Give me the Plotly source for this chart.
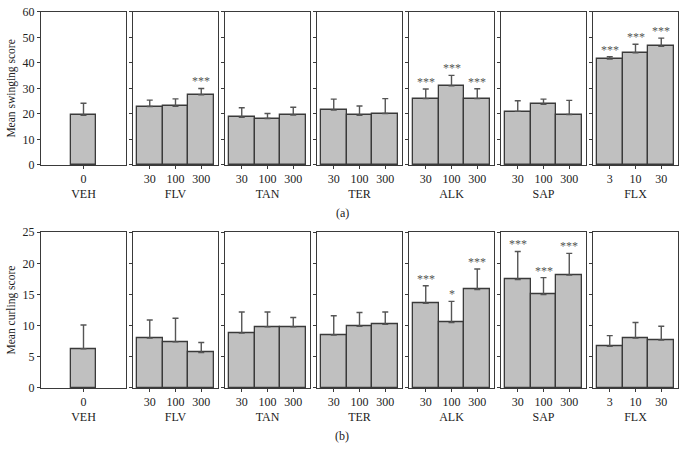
import plotly.graph_objects as go

groups = ["VEH", "FLV", "TAN", "TER", "ALK", "SAP", "FLX"]
doses = [["0"], ["30", "100", "300"], ["30", "100", "300"], ["30", "100", "300"],
         ["30", "100", "300"], ["30", "100", "300"], ["3", "10", "30"]]

swing_mean = [[19.5], [22.9, 23.0, 27.5], [18.7, 18.2, 19.6], [21.5, 19.5, 20.2],
              [26.0, 31.0, 26.0], [21.0, 23.8, 19.8], [41.5, 44.0, 46.5]]
swing_err = [[4.7], [2.5, 2.9, 2.5], [3.7, 2.0, 3.0], [4.3, 3.6, 5.8],
             [3.8, 4.1, 3.9], [4.2, 2.0, 5.5], [0.9, 3.3, 3.2]]
swing_sig = [[""], ["", "", "***"], ["", "", ""], ["", "", ""],
             ["***", "***", "***"], ["", "", ""], ["***", "***", "***"]]

curl_mean = [[6.3], [8.0, 7.4, 5.7], [8.8, 9.8, 9.8], [8.5, 9.9, 10.2],
             [13.6, 10.5, 15.8], [17.4, 15.0, 18.1], [6.7, 8.0, 7.7]]
curl_err = [[3.8], [2.9, 3.8, 1.6], [3.4, 2.4, 1.5], [3.1, 2.2, 2.0],
            [2.8, 3.4, 3.3], [4.5, 2.7, 3.5], [1.7, 2.5, 2.2]]
curl_sig = [[""], ["", "", ""], ["", "", ""], ["", "", ""],
            ["***", "*", "***"], ["***", "***", "***"], ["", "", ""]]

rows = [
    dict(mean=swing_mean, err=swing_err, sig=swing_sig, ymax=60, dtick=10,
         title="Mean swinging score", dom=[0.639, 0.974], tag="(a)", tagy=0.534),
    dict(mean=curl_mean, err=curl_err, sig=curl_sig, ymax=25, dtick=5,
         title="Mean curling score", dom=[0.151, 0.492], tag="(b)", tagy=0.046),
]

W, H = 686, 457
left, pw, gap = 41, 85, 7
FONT = "Liberation Serif"
LINE = "#3a3a3a"

fig = go.Figure()
layout = {}
annotations = []
k = 0
for r, row in enumerate(rows):
    for i, g in enumerate(groups):
        k += 1
        xa = "xaxis" if k == 1 else f"xaxis{k}"
        ya = "yaxis" if k == 1 else f"yaxis{k}"
        xr = "x" if k == 1 else f"x{k}"
        yr = "y" if k == 1 else f"y{k}"
        n = len(doses[i])
        xs = [1] if n == 1 else list(range(n))
        fig.add_trace(go.Bar(
            x=xs, y=row["mean"][i], xaxis=xr, yaxis=yr, width=1,
            marker=dict(color="#c0c0c0", line=dict(color=LINE, width=1.3)),
            error_y=dict(type="data", array=row["err"][i],
                         arrayminus=[0] * n, symmetric=False,
                         color="#555555", thickness=1.4, width=3),
            showlegend=False, hoverinfo="skip"))
        x0 = (left + i * (pw + gap)) / W
        layout[xa] = dict(
            domain=[x0, x0 + pw / W], anchor=yr, range=[-0.65, 2.65],
            automargin=False,
            tickvals=xs, ticktext=doses[i], ticks="outside", ticklen=3,
            tickcolor=LINE, showline=True, mirror=True, linecolor=LINE,
            linewidth=1.2, showgrid=False, zeroline=False,
            tickfont=dict(family=FONT, size=12, color="#222"),
            title=dict(text=g, standoff=4,
                       font=dict(family=FONT, size=12, color="#222")))
        layout[ya] = dict(
            domain=row["dom"], anchor=xr, range=[0, row["ymax"]],
            automargin=False,
            dtick=row["dtick"], ticks="outside", ticklen=3, tickcolor=LINE,
            showline=True, mirror=True, linecolor=LINE, linewidth=1.2,
            showgrid=False, zeroline=False, showticklabels=(i == 0),
            tickfont=dict(family=FONT, size=12, color="#222"))
        if i == 0:
            layout[ya]["title"] = dict(text=row["title"], standoff=4,
                                       font=dict(family=FONT, size=11.5, color="#222"))
        for xv, m, e, s in zip(xs, row["mean"][i], row["err"][i], row["sig"][i]):
            if s:
                annotations.append(dict(
                    x=xv, y=m + e, xref=xr, yref=yr, text=s, showarrow=False,
                    yanchor="bottom", yshift=-2,
                    font=dict(family=FONT, size=12, color="#555555")))
    annotations.append(dict(
        x=342 / W, y=row["tagy"], xref="paper", yref="paper", text=row["tag"],
        showarrow=False, yanchor="middle",
        font=dict(family=FONT, size=12, color="#222")))

fig.update_layout(
    width=W, height=H, margin=dict(l=0, r=0, t=0, b=0),
    paper_bgcolor="white", plot_bgcolor="white", bargap=0,
    annotations=annotations, **layout)

fig.write_html("out.html", config={"displayModeBar": False},
               post_script="document.body.style.margin='0';")
